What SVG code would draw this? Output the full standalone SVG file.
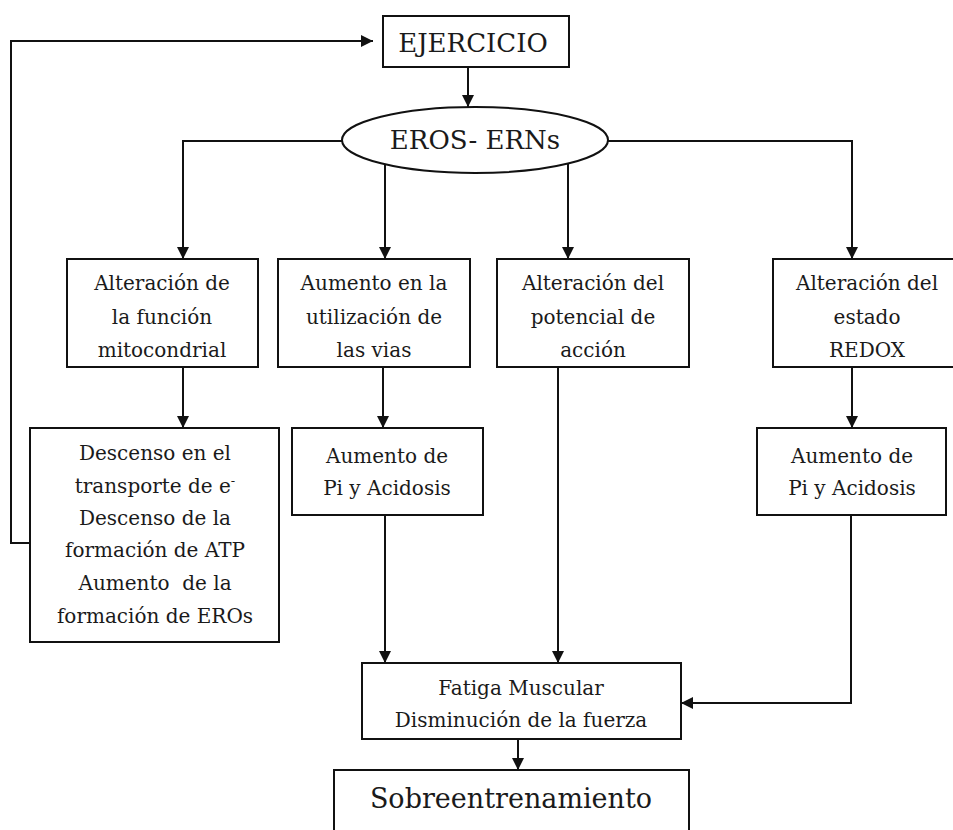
<svg xmlns="http://www.w3.org/2000/svg" width="953" height="830" viewBox="0 0 953 830">
<style>
.box{fill:#fff;stroke:#111;stroke-width:2}
.t{font-family:"DejaVu Serif","Liberation Serif",serif;fill:#1a1a1a;text-anchor:middle;font-size:20px}
.big{font-size:26px}
.c{fill:none;stroke:#111;stroke-width:2}
</style>
<defs>
<marker id="ah" markerUnits="userSpaceOnUse" markerWidth="12" markerHeight="12" refX="12" refY="6" orient="auto">
<path d="M0,0 L12,6 L0,12 z" fill="#111"/>
</marker>
</defs>
<rect width="953" height="830" fill="#fff"/>
<g id="connectors">
<path class="c" d="M30,543 H11 V41 H373" marker-end="url(#ah)"/>
<path class="c" d="M468,67 V107" marker-end="url(#ah)"/>
<path class="c" d="M342,141 H183 V259" marker-end="url(#ah)"/>
<path class="c" d="M385,164 V259" marker-end="url(#ah)"/>
<path class="c" d="M568,164 V259" marker-end="url(#ah)"/>
<path class="c" d="M608,141 H852 V259" marker-end="url(#ah)"/>
<path class="c" d="M183,367 V428" marker-end="url(#ah)"/>
<path class="c" d="M383,367 V428" marker-end="url(#ah)"/>
<path class="c" d="M852,367 V428" marker-end="url(#ah)"/>
<path class="c" d="M385,515 V663" marker-end="url(#ah)"/>
<path class="c" d="M558,367 V663" marker-end="url(#ah)"/>
<path class="c" d="M851,515 V703 H681" marker-end="url(#ah)"/>
<path class="c" d="M518,739 V770" marker-end="url(#ah)"/>
</g>
<g id="ejercicio">
<rect class="box" x="383" y="16" width="186" height="51"/>
<text class="t big" x="473" y="52">EJERCICIO</text>
</g>
<g id="eros">
<ellipse class="box" cx="475" cy="140" rx="133" ry="33"/>
<text class="t big" x="475" y="149">EROS- ERNs</text>
</g>
<g id="mito">
<rect class="box" x="67" y="259" width="191" height="108"/>
<text class="t" x="162" y="290">Alteración de</text>
<text class="t" x="162" y="324">la función</text>
<text class="t" x="162" y="357">mitocondrial</text>
</g>
<g id="vias">
<rect class="box" x="278" y="259" width="192" height="108"/>
<text class="t" x="374" y="290">Aumento en la</text>
<text class="t" x="374" y="324">utilización de</text>
<text class="t" x="374" y="357">las vias</text>
</g>
<g id="potencial">
<rect class="box" x="497" y="259" width="192" height="108"/>
<text class="t" x="593" y="290">Alteración del</text>
<text class="t" x="593" y="324">potencial de</text>
<text class="t" x="593" y="357">acción</text>
</g>
<g id="redox">
<rect class="box" x="773" y="259" width="190" height="108"/>
<text class="t" x="867" y="290">Alteración del</text>
<text class="t" x="867" y="324">estado</text>
<text class="t" x="867" y="357">REDOX</text>
</g>
<g id="descenso">
<rect class="box" x="30" y="428" width="249" height="214"/>
<text class="t" x="155" y="460">Descenso en el</text>
<text class="t" x="155" y="493">transporte de e<tspan font-size="13" dy="-8">-</tspan></text>
<text class="t" x="155" y="525">Descenso de la</text>
<text class="t" x="155" y="557">formación de ATP</text>
<text class="t" x="155" y="590" xml:space="preserve" style="white-space:pre">Aumento  de la</text>
<text class="t" x="155" y="623">formación de EROs</text>
</g>
<g id="pi1">
<rect class="box" x="292" y="428" width="191" height="87"/>
<text class="t" x="387" y="463">Aumento de</text>
<text class="t" x="387" y="495">Pi y Acidosis</text>
</g>
<g id="pi2">
<rect class="box" x="757" y="428" width="189" height="87"/>
<text class="t" x="852" y="463">Aumento de</text>
<text class="t" x="852" y="495">Pi y Acidosis</text>
</g>
<g id="fatiga">
<rect class="box" x="362" y="663" width="319" height="76"/>
<text class="t" x="521" y="695">Fatiga Muscular</text>
<text class="t" x="521" y="727">Disminución de la fuerza</text>
</g>
<g id="sobre">
<rect class="box" x="334" y="770" width="355" height="75"/>
<text class="t" x="511" y="808" style="font-size:27px">Sobreentrenamiento</text>
</g>
</svg>
